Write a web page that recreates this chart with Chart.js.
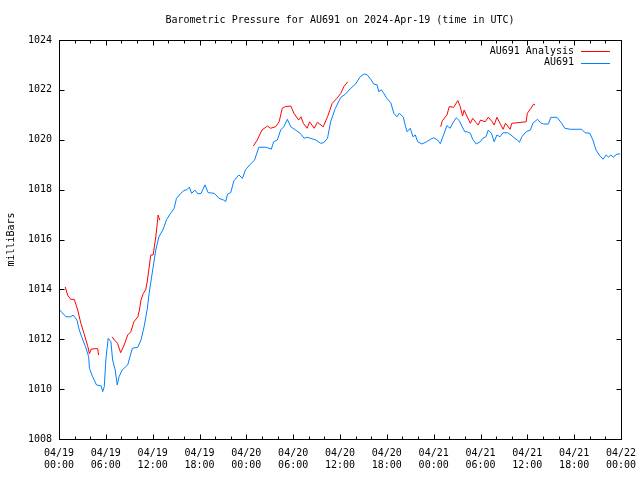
<!DOCTYPE html>
<html>
<head>
<meta charset="utf-8">
<script src="https://cdn.jsdelivr.net/npm/chart.js@4"></script>
<style>
  html, body { margin: 0; padding: 0; background: #fff; }
  #grafik { display: block; }
</style>
</head>
<body>
<canvas id="grafik" width="640" height="480"></canvas>
<script>
// saat (2024-04-19 00:00 UTC'den itibaren) ve basinc degerleri
const olcumSaat = [0.1, 0.9, 1.5, 1.8, 2.3, 2.6, 2.9, 3.4, 3.8, 3.9, 4.3, 4.8, 5.4, 5.6, 5.8, 6.0, 6.3, 6.65, 6.87, 7.2,
  7.46, 7.7, 8.1, 8.8, 9.4, 10.1, 10.5, 10.9, 11.3, 11.55, 12.0, 12.4, 12.8, 13.3, 13.8, 14.3, 14.75, 15.05, 15.6, 16.0,
  16.4, 16.7, 17.0, 17.4, 17.8, 18.2, 18.7, 19.1, 19.9, 20.5, 21.1, 21.35, 21.6, 22.0, 22.4, 23.05, 23.5, 23.9, 24.55, 25.06,
  25.6, 26.5, 26.9, 27.2, 27.5, 27.97, 28.4, 28.8, 29.25, 29.7, 30.3, 30.9, 31.4, 31.8, 32.9, 33.5, 33.9, 34.4, 34.8, 35.4,
  36.1, 36.7, 37.3, 37.98, 38.6, 39.1, 39.5, 40.0, 40.3, 40.75, 40.96, 41.3, 41.6, 42.0, 42.5, 42.9, 43.3, 43.6, 44.1, 44.4,
  44.6, 45.0, 45.35, 45.65, 45.95, 46.5, 47.1, 47.6, 48.0, 48.5, 48.85, 49.3, 49.7, 50.1, 50.55, 50.9, 51.3, 51.6, 52.0, 52.3,
  52.7, 53.0, 53.45, 53.96, 54.3, 54.7, 55.0, 55.4, 55.75, 56.1, 56.5, 56.9, 57.5, 57.9, 58.4, 58.7, 58.99, 59.3, 59.85, 60.4,
  60.7, 61.3, 61.7, 62.1, 62.7, 63.0, 63.8, 64.4, 64.8, 65.5, 66.97, 67.4, 68.0, 68.4, 68.8, 69.2, 69.7, 70.1, 70.4, 70.7,
  71.0, 71.5, 71.9];
const olcumBasinc = [1013.17, 1012.9, 1012.9, 1012.97, 1012.77, 1012.37, 1012.1, 1011.7, 1011.3, 1010.84, 1010.5, 1010.17, 1010.13, 1009.9, 1010.1, 1011.17, 1012.04, 1011.9, 1011.17, 1010.77,
  1010.17, 1010.5, 1010.77, 1010.97, 1011.64, 1011.68, 1011.97, 1012.5, 1013.2, 1013.84, 1014.78, 1015.58, 1016.11, 1016.38, 1016.81, 1017.05, 1017.25, 1017.65, 1017.85, 1017.96,
  1018.0, 1018.1, 1017.85, 1017.98, 1017.83, 1017.85, 1018.19, 1017.88, 1017.85, 1017.65, 1017.58, 1017.52, 1017.82, 1017.88, 1018.35, 1018.59, 1018.45, 1018.8, 1019.03, 1019.19,
  1019.7, 1019.7, 1019.66, 1019.62, 1019.92, 1019.99, 1020.39, 1020.52, 1020.82, 1020.52, 1020.39, 1020.26, 1020.06, 1020.1, 1019.99, 1019.86, 1019.88, 1020.06, 1020.72, 1021.26,
  1021.7, 1021.83, 1022.04, 1022.23, 1022.53, 1022.64, 1022.6, 1022.4, 1022.24, 1022.2, 1021.93, 1022.0, 1021.86, 1021.66, 1021.49, 1021.06, 1020.92, 1021.06, 1020.92, 1020.52,
  1020.32, 1020.46, 1020.12, 1020.19, 1019.92, 1019.83, 1019.92, 1020.02, 1020.08, 1019.99, 1019.84, 1020.22, 1020.57, 1020.46, 1020.72, 1020.88, 1020.76, 1020.55, 1020.32, 1020.32,
  1020.26, 1020.02, 1019.83, 1019.92, 1020.06, 1020.12, 1020.39, 1020.26, 1019.92, 1020.19, 1020.12, 1020.28, 1020.28, 1020.19, 1020.06, 1019.99, 1019.9, 1020.12, 1020.32, 1020.39,
  1020.66, 1020.82, 1020.68, 1020.63, 1020.63, 1020.9, 1020.9, 1020.66, 1020.46, 1020.42, 1020.42, 1020.28, 1020.26, 1019.99, 1019.59, 1019.39, 1019.22, 1019.39, 1019.3, 1019.39,
  1019.3, 1019.43, 1019.43];

// analiz serisi, null = bosluk
const analizSaat = [0.8, 1.1, 1.5, 1.96, 2.4, 2.8, 3.2, 3.7, 3.9, 4.1, 4.5, 4.95, 5.07, 6.0,
  6.8, 7.1, 7.5, 7.9, 8.35, 8.8, 9.2, 9.6, 10.1, 10.3, 10.5, 10.8, 11.1, 11.3, 11.76, 12.06, 12.4, 12.7, 12.9, 18.0,
  24.9, 25.4, 26.0, 26.7, 27.1, 27.75, 28.2, 28.6, 29.0, 29.7, 30.1, 30.7, 31.0, 31.3, 31.8, 32.1, 32.4, 32.7, 33.1, 33.85,
  34.4, 35.0, 35.6, 36.1, 36.5, 37.0, 43.0,
  48.9, 49.1, 49.7, 50.0, 50.55, 51.1, 51.4, 51.7, 51.9, 52.3, 52.7, 53.0, 53.45, 53.7, 54.0, 54.6, 55.0, 55.5, 55.75, 56.1,
  56.5, 56.9, 57.2, 57.8, 58.0, 58.65, 59.85, 60.0, 60.45, 60.8, 61.0];
const analizBasinc = [1014.1, 1013.77, 1013.6, 1013.6, 1013.17, 1012.64, 1012.24, 1011.7, 1011.41, 1011.6, 1011.62, 1011.62, 1011.37, null,
  1012.1, 1011.97, 1011.84, 1011.46, 1011.77, 1012.17, 1012.3, 1012.7, 1012.9, 1013.17, 1013.57, 1013.84, 1013.98, 1014.3, 1015.38, 1015.38, 1016.1, 1016.98, 1016.78, null,
  1019.75, 1019.99, 1020.39, 1020.55, 1020.46, 1020.52, 1020.72, 1021.26, 1021.33, 1021.35, 1021.06, 1020.79, 1020.92, 1020.66, 1020.46, 1020.72, 1020.59, 1020.46, 1020.7, 1020.52,
  1020.92, 1021.46, 1021.66, 1021.86, 1022.13, 1022.33, null,
  1020.52, 1020.76, 1020.99, 1021.33, 1021.3, 1021.57, 1021.33, 1020.95, 1021.19, 1020.92, 1020.66, 1020.86, 1020.68, 1020.59, 1020.79, 1020.72, 1020.9, 1020.72, 1020.59, 1020.9,
  1020.66, 1020.42, 1020.66, 1020.42, 1020.66, 1020.68, 1020.72, 1021.06, 1021.26, 1021.43, 1021.39];

const baslangicGunu = 19;
const yaziTipi = "'DejaVu Sans Mono', monospace";

function noktalar(saatler, degerler) {
    return saatler.map((s, i) => ({ x: s, y: degerler[i] }));
}

function ikiHane(n) {
    return (n < 10 ? '0' : '') + n;
}

// gnuplot tarzi: kutu cerceve, ice dogru tikler, sag ustte lejant
const cerceveEklentisi = {
    id: 'cerceve',
    afterLayout(chart) {
        // basligi cizim alaninin ortasina al
        if (chart.titleBlock) {
            chart.titleBlock.left = chart.chartArea.left;
            chart.titleBlock.right = chart.chartArea.right;
        }
    },
    afterDraw(chart) {
        const ctx = chart.ctx;
        const a = chart.chartArea;
        const xs = chart.scales.x;
        const ys = chart.scales.y;
        ctx.save();
        ctx.strokeStyle = '#000';
        ctx.lineWidth = 1;
        const L = Math.round(a.left) + 0.5, R = Math.round(a.right) + 0.5;
        const T = Math.round(a.top) + 0.5, B = Math.round(a.bottom) + 0.5;
        ctx.strokeRect(L, T, R - L, B - T);
        ctx.beginPath();
        xs.ticks.forEach(t => {
            const px = Math.round(xs.getPixelForValue(t.value)) + 0.5;
            const uzun = t.value % 6 === 0 ? 5 : 3;
            ctx.moveTo(px, B); ctx.lineTo(px, B - uzun);
            ctx.moveTo(px, T); ctx.lineTo(px, T + uzun);
        });
        ys.ticks.forEach(t => {
            const py = Math.round(ys.getPixelForValue(t.value)) + 0.5;
            ctx.moveTo(L, py); ctx.lineTo(L + 5, py);
            ctx.moveTo(R, py); ctx.lineTo(R - 5, py);
        });
        ctx.stroke();

        // lejant
        ctx.font = '10px ' + yaziTipi;
        ctx.textAlign = 'right';
        ctx.textBaseline = 'middle';
        ctx.fillStyle = '#000';
        chart.data.datasets.forEach((ds, i) => {
            const y = 51 + i * 11.5;
            ctx.fillText(ds.label, 574, y);
            ctx.beginPath();
            ctx.strokeStyle = ds.borderColor;
            ctx.moveTo(581, Math.round(y) + 0.5);
            ctx.lineTo(610, Math.round(y) + 0.5);
            ctx.stroke();
        });
        ctx.restore();
    }
};

function grafikCiz() {
    Chart.defaults.color = '#000';
    Chart.defaults.font.family = yaziTipi;
    Chart.defaults.font.size = 10;

    const data = {
        datasets: [
            {
                label: 'AU691 Analysis',
                data: noktalar(analizSaat, analizBasinc),
                borderColor: '#ff0000',
                borderWidth: 1,
                pointRadius: 0,
                tension: 0,
                spanGaps: false
            },
            {
                label: 'AU691',
                data: noktalar(olcumSaat, olcumBasinc),
                borderColor: '#0080ff',
                borderWidth: 1,
                pointRadius: 0,
                tension: 0
            }
        ]
    };

    const config = {
        type: 'line',
        data: data,
        options: {
            responsive: false,
            animation: false,
            layout: { padding: { left: 0, right: 19, top: 0, bottom: 0 } },
            plugins: {
                legend: { display: false },
                tooltip: { enabled: false },
                title: {
                    display: true,
                    text: 'Barometric Pressure for AU691 on 2024-Apr-19 (time in UTC)',
                    font: { size: 10, weight: 'normal', lineHeight: 1.2 },
                    padding: { top: 14, bottom: 14 }
                }
            },
            scales: {
                x: {
                    type: 'linear',
                    min: 0,
                    max: 72,
                    grid: { display: false, drawTicks: false },
                    border: { display: false },
                    afterFit: s => { s.height = 41; s.paddingLeft = 0; s.paddingRight = 0; },
                    ticks: {
                        stepSize: 2,
                        autoSkip: false,
                        maxRotation: 0,
                        padding: 8,
                        font: { lineHeight: 1.2 },
                        callback: v => {
                            if (v % 6 !== 0) return '';
                            const gun = baslangicGunu + Math.floor(v / 24);
                            return ['04/' + ikiHane(gun), ikiHane(v % 24) + ':00'];
                        }
                    }
                },
                y: {
                    min: 1008,
                    max: 1024,
                    grid: { display: false, drawTicks: false },
                    border: { display: false },
                    afterFit: s => { s.width = 59; },
                    ticks: { stepSize: 2, padding: 7, callback: v => String(v) },
                    title: {
                        display: true,
                        text: 'milliBars',
                        font: { size: 10, lineHeight: 1.2 },
                        padding: { top: 5, bottom: 0 }
                    }
                }
            }
        },
        plugins: [cerceveEklentisi]
    };

    new Chart(document.getElementById('grafik'), config);
}

grafikCiz();
</script>
</body>
</html>
